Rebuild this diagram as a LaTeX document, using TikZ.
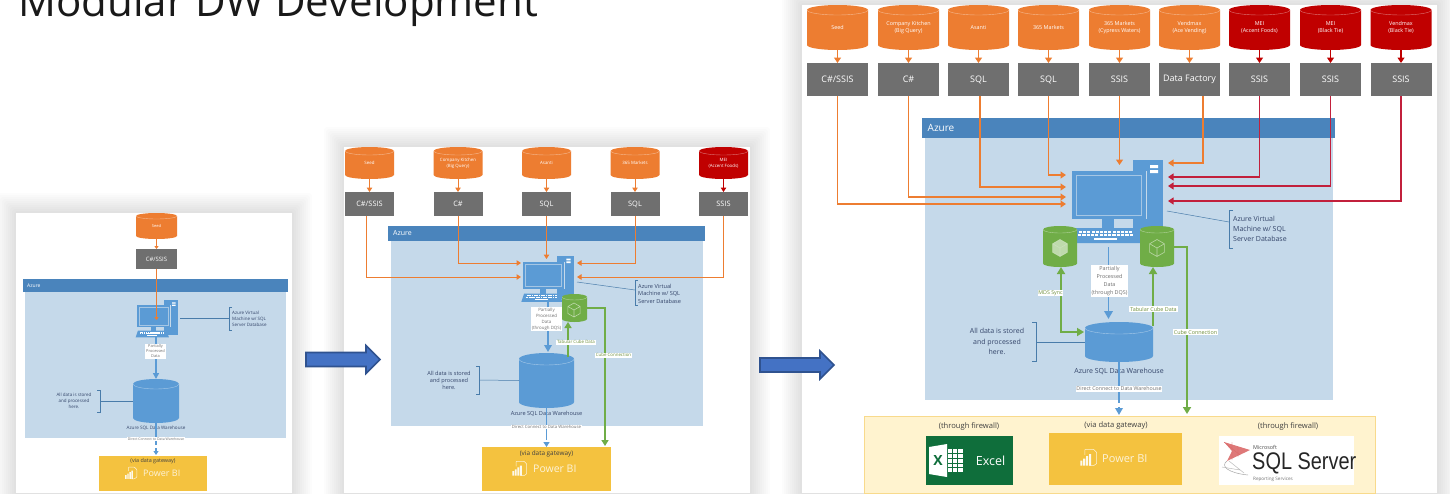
\documentclass[tikz,border=0pt]{standalone}
\usepackage{fontspec}
\usepackage{graphicx}
\setmainfont{Open Sans}
\newfontfamily\sqlfont{Liberation Sans}
\usetikzlibrary{arrows.meta}
\definecolor{srcorange}{HTML}{ED7D31}
\definecolor{srcred}{HTML}{C00000}
\definecolor{linered}{HTML}{C2203C}
\definecolor{etlgray}{HTML}{6F6F6F}
\definecolor{msblue}{HTML}{5B9BD5}
\definecolor{hdrblue}{HTML}{4A84BC}
\definecolor{azbody}{HTML}{C5D9EA}
\definecolor{cubegreen}{HTML}{70AD47}
\definecolor{bigarrow}{HTML}{4472C4}
\definecolor{bigarrowedge}{HTML}{2F528F}
\definecolor{pbiyellow}{HTML}{F4C23F}
\definecolor{palepanel}{HTML}{FFF3CF}
\definecolor{inktext}{HTML}{34456A}
\definecolor{olive}{HTML}{6F8F3C}
\definecolor{excelgreen}{HTML}{0F6E3B}
\newcommand{\fs}[1]{\fontsize{#1}{\the\dimexpr #1pt*132/100\relax}\selectfont}
\newcommand{\fsl}[2]{\fontsize{#1}{#2}\selectfont}
\tikzset{
  x=1pt,y=-1pt,
  boxnode/.style={inner sep=0pt,outer sep=0pt,anchor=center},
  etlbox/.style={boxnode,fill=etlgray,text=white},
  orangeflow/.style={draw=srcorange,line width=1.2pt,-{Triangle[width=7pt,length=5.5pt]}},
  redflow/.style={draw=linered,line width=1.2pt,-{Triangle[width=7pt,length=5.5pt]}},
  dredflow/.style={draw=srcred,line width=1.2pt,-{Triangle[width=7pt,length=5.5pt]}},
  smalltip/.style={line width=1pt,-{Triangle[width=5.5pt,length=4.5pt]}},
  blueflow/.style={draw=msblue,line width=1.8pt,-{Triangle[width=8.5pt,length=8pt]}},
  greenflow/.style={draw=cubegreen,line width=2pt,-{Triangle[width=8pt,length=7pt]}},
  greenboth/.style={draw=cubegreen,line width=2pt,{Triangle[width=8pt,length=7pt]}-{Triangle[width=8pt,length=7pt]}},
  callout/.style={draw=msblue!80!black,line width=.5pt},
  notetext/.style={inner sep=0pt,text=inktext,align=left},
  flowlabel/.style={fill=white,inner sep=.8pt,text=etlgray,align=center},
  greenlabel/.style={fill=white,inner sep=.8pt,text=olive,align=center},
  blockarrow/.style={fill=bigarrow,draw=bigarrowedge,line width=1.6pt},
}
% panel shadow: x1 y1 x2 y2
\newcommand{\panelshadow}[4]{%
  \foreach \g in {1,...,10}{\fill[black,opacity=.013,rounded corners=3pt] (#1-\g*2,#2-\g*2) rectangle (#3+\g*2,#4+\g*2);}}
% cylinder: name cx top bottom width colour ry font text
\newcommand{\cyl}[9]{%
  \fill[#6] (#2-#5/2,#3+#7) -- (#2-#5/2,#4-#7) arc[start angle=180,end angle=360,x radius=#5*0.5pt,y radius=#7pt] -- (#2+#5/2,#3+#7) arc[start angle=0,end angle=180,x radius=#5*0.5pt,y radius=#7pt] -- cycle;
  \draw[white,opacity=.45,line width=.4pt] (#2-#5/2,#3+#7) arc[start angle=180,end angle=360,x radius=#5*0.5pt,y radius=#7pt];
  \node[boxnode,minimum width=#5pt,minimum height={#4-#3},text=white,align=center,font=\fs{#8}] (#1) at (#2,{(#3+#4)/2}) {#9};}
% computer: name x y scale
\newcommand{\computer}[4]{%
  \begin{scope}[shift={(#2,#3)},scale=#4]
    \fill[msblue] (61,-11) rectangle (91,66);
    \fill[white] (78,-6) rectangle (86,-3) (78,-1) rectangle (86,2);
    \fill[msblue] (0,0) rectangle (74,48);
    \draw[azbody,line width=.4pt] (74,0) -- (74,48);
    \draw[azbody!70!msblue,line width=.5pt] (4,4) rectangle (69,44);
    \fill[msblue] (30,48) rectangle (42,57);
    \fill[msblue] (2,57) -- (66,57) -- (71,72) -- (-3,72) -- cycle;
    \foreach \i in {0,...,12}{
      \fill[white] ({7+\i*4.2},60) rectangle ({10+\i*4.2},62);
      \fill[white] ({6+\i*4.3},63.2) rectangle ({9.2+\i*4.3},65.2);
    }
    \fill[white] (22,67) rectangle (45,69);
  \end{scope}
  \node[boxnode,minimum width={83*#4},minimum height={83*#4}] (#1) at ({#2+#4*44},{#3+#4*30}) {};}
% cube icon: cx cy r style
\newcommand{\cubeicon}[4]{%
  \begin{scope}[shift={(#1,#2)},scale=#3,line width=.6pt]
    \path[#4] (0,-1) -- (.87,-.5) -- (.87,.5) -- (0,1) -- (-.87,.5) -- (-.87,-.5) -- cycle;
    \draw[cubegreen!35!white,opacity=.8] (0,-1) -- (.87,-.5) -- (.87,.5) -- (0,1) -- (-.87,.5) -- (-.87,-.5) -- cycle (-.87,-.5) -- (0,0) -- (.87,-.5) (0,0) -- (0,1);
  \end{scope}}
% power bi icon: x y size
\newcommand{\pbiicon}[3]{%
  \begin{scope}[shift={(#1,#2)},scale=#3]
    \draw[white,opacity=.8,line width=.5pt,rounded corners=.5pt] (.28,.35) -- (.28,.02) -- (.8,.02) -- (.98,.2) -- (.98,.85) -- (.8,.98) -- (.55,.98);
    \fill[white,opacity=.9] (.02,.68) rectangle (.14,.98) (.19,.56) rectangle (.31,.98) (.36,.42) rectangle (.48,.98) (.53,.3) rectangle (.65,.98);
  \end{scope}}
\begin{document}
\begin{tikzpicture}
\useasboundingbox (0,0) rectangle (1450,493);
\fill[white] (0,0) rectangle (1450,493);
\node[anchor=base west,inner sep=0pt,text=black!90,font=\fontsize{42}{42}\selectfont] (title) at (18,16) {Modular DW Development};

\panelshadow{802}{5}{1437}{493}
\panelshadow{344}{147}{750}{493}
\panelshadow{16}{213}{292}{493}

%% ---------- panel 1
\fill[white] (16,213) rectangle (292,493);
\fill[azbody] (25,290) rectangle (286,438);
\node[boxnode,fill=hdrblue,minimum width=265,minimum height=13] (az1) at (155.5,285.5) {};
\node[anchor=west,inner sep=0pt,text=white,font=\fs{5}] (az1t) at (27,285.5) {Azure};
\cyl{a1s}{156.5}{213}{239}{41}{srcorange}{3}{4}{Seed}
\node[etlbox,minimum width=41,minimum height=20,font=\fs{6}] (a1c) at (156.5,259) {C\#/SSIS};
\draw[orangeflow,line width=.9pt,-{Triangle[width=4pt,length=3pt]}] (a1s.south) -- (a1c.north);
\computer{vm1}{137}{305}{.45}
\coordinate (a1in) at (156.5,320);
\draw[orangeflow,line width=.9pt,-{Triangle[width=4pt,length=3pt]}] (a1c.south) -- (a1in);
\cyl{dw1}{156}{379}{423}{46}{msblue}{5}{4.5}{}
\coordinate (k1) at (156,336);
\draw[blueflow,line width=1.5pt,-{Triangle[width=6pt,length=6pt]}] (k1) -- (dw1.north);
\node[flowlabel,font=\fsl{3.9}{5}] (p1) at (155.5,351.5) {Partially\\Processed\\Data};
\node[inner sep=.5pt,text=inktext,font=\fs{4.6}] (dw1t) at (156,428.5) {Azure SQL Data Warehouse};
\node[boxnode,fill=pbiyellow,minimum width=108,minimum height=35] (pb1) at (153,473.5) {};
\coordinate (t1) at (156,455);
\draw[blueflow,line width=1.2pt,dash pattern=on 22pt off 3pt on 30pt,-{Triangle[width=5pt,length=4pt]}] (dw1.south) -- (t1);
\node[flowlabel,font=\fs{3.5}] (d1) at (156,439) {Direct Connect to Data Warehouse};
\node[inner sep=0pt,text=black!75,font=\fs{5.4}] (g1) at (153,461) {(via data gateway)};
\pbiicon{125}{467}{12}
\node[anchor=west,inner sep=0pt,text=white,opacity=.8,font=\fs{9}] (pbt1) at (143,473) {Power BI};
\node[notetext,anchor=west,font=\fsl{4.5}{6}] (n1a) at (232,319) {Azure Virtual\\Machine w/ SQL\\Server Database};
\draw[callout] (232,307) -- (229,307) -- (229,330) -- (232,330);
\coordinate (b1a) at (229,318);\coordinate (v1a) at (180,318);
\draw[callout] (v1a) -- (b1a);
\node[notetext,align=center,font=\fsl{4.5}{6}] (n1b) at (74,401) {All data is stored\\and processed\\here.};
\draw[callout] (97,390) -- (100,390) -- (100,412) -- (97,412);
\coordinate (b1b) at (100,401);
\draw[callout] (b1b) -- (dw1.west);

%% ---------- panel 2
\fill[white] (344,147) rectangle (750,493);
\fill[azbody] (391,238) rectangle (703,426);
\node[boxnode,fill=hdrblue,minimum width=317,minimum height=15] (az2) at (546.5,233.5) {};
\node[anchor=west,inner sep=0pt,text=white,font=\fs{7}] (az2t) at (393,233.5) {Azure};
\foreach \n/\cx/\ttl in {s/369.5/Seed,k/458/{Company Kitchen\\(Big Query)},a/546.5/Asanti,m/635/365 Markets}{
  \cyl{b2\n}{\cx}{147}{179}{49}{srcorange}{4}{4.4}{\ttl}
}
\cyl{b2r}{723.5}{147}{179}{49}{srcred}{4}{4.4}{MEI\\(Accent Foods)}
\foreach \n/\cx/\ttl in {s/369.5/C\#\slash SSIS,k/458/C\#,a/546.5/SQL,m/635/SQL,r/723.5/SSIS}{
  \node[etlbox,minimum width=49,minimum height=24,font=\fs{7.4}] (c2\n) at (\cx,204) {\ttl};
}
\foreach \n in {s,k,a,m}{\draw[orangeflow,smalltip] (b2\n.south) -- (c2\n.north);}
\draw[dredflow,smalltip] (b2r.south) -- (c2r.north);
\computer{vm2}{523}{262}{.555}
\coordinate (e2s) at (521,277);\coordinate (e2k) at (521,263);\coordinate (e2a) at (546.5,259);\coordinate (e2m) at (577,263);\coordinate (e2r) at (577,277);
\draw[orangeflow,smalltip] ([xshift=-3.5pt]c2s.south) |- (e2s);
\draw[orangeflow,smalltip] (c2k.south) |- (e2k);
\draw[orangeflow,smalltip] (c2a.south) -- (e2a);
\draw[orangeflow,smalltip] (c2m.south) |- (e2m);
\draw[orangeflow,smalltip] (c2r.south) |- (e2r);
\cyl{g2}{574.5}{294}{322}{25}{cubegreen}{3}{4}{}
\cubeicon{574}{310}{7}{fill=none}
\cyl{dw2}{546.5}{353}{408}{55}{msblue}{6}{5.6}{}
\coordinate (k2) at (548,300);\coordinate (k2e) at (548,352);
\draw[blueflow,line width=1.7pt,-{Triangle[width=7.5pt,length=7pt]}] (k2) -- (k2e);
\node[flowlabel,font=\fsl{4.4}{6}] (p2) at (546.5,319) {Partially\\Processed\\Data\\(through DQS)};
\coordinate (t2) at (568,357);\coordinate (t2e) at (568,322);
\draw[greenflow,line width=1.7pt,-{Triangle[width=7pt,length=6pt]}] (t2) -- (t2e);
\node[greenlabel,font=\fs{4.4}] (gl2a) at (576,342) {Tabular Cube Data};
\node[inner sep=.5pt,text=inktext,font=\fs{5.6}] (dw2t) at (546.5,414) {Azure SQL Data Warehouse};
\node[boxnode,fill=pbiyellow,minimum width=129,minimum height=44] (pb2) at (546.5,469) {};
\coordinate (t2d) at (546.5,447);
\draw[blueflow,line width=1.4pt,dash pattern=on 32pt off 3pt on 4pt off 2pt on 20pt,-{Triangle[width=6pt,length=5pt]}] (dw2.south) -- (t2d);
\node[flowlabel,font=\fs{4.3}] (d2) at (546.5,427) {Direct Connect to Data Warehouse};
\coordinate (cc2) at (587,308);\coordinate (cc2e) at (605,446);
\draw[greenflow,line width=1.7pt,-{Triangle[width=7pt,length=6pt]}] (cc2) -| (cc2e);
\node[greenlabel,font=\fs{4.4}] (gl2b) at (613.5,355) {Cube Connection};
\node[inner sep=0pt,text=black!75,font=\fs{6.4}] (g2t) at (546.5,454) {(via data gateway)};
\pbiicon{512}{461}{15}
\node[anchor=west,inner sep=0pt,text=white,opacity=.8,font=\fs{10.5}] (pbt2) at (533,469) {Power BI};
\node[notetext,anchor=west,font=\fsl{5.6}{7.6}] (n2a) at (638,293.5) {Azure Virtual\\Machine w/ SQL\\Server Database};
\draw[callout] (638,280) -- (635,280) -- (635,305) -- (638,305);
\coordinate (b2a) at (635,290);\coordinate (v2a) at (577,282);
\draw[callout] (v2a) -- (b2a);
\node[notetext,align=center,font=\fsl{5.6}{7.4}] (n2b) at (449,380.5) {All data is stored\\and processed\\here.};
\draw[callout] (476,366) -- (479,366) -- (479,394) -- (476,394);
\coordinate (b2b) at (479,380);
\draw[callout] (b2b) -- (dw2.west);

%% ---------- panel 3
\fill[white] (802,5) rectangle (1437,493);
\fill[azbody] (925,135) rectangle (1333,400);
\node[boxnode,fill=hdrblue,minimum width=413,minimum height=20] (az3) at (1128.5,128) {};
\node[anchor=west,inner sep=0pt,text=white,font=\fs{10}] (az3t) at (927.5,128) {Azure};
\foreach \n/\cx/\ttl in {a/837.5/Seed,b/908.5/{Company Kitchen\\(Big Query)},c/978.5/Asanti,d/1048.5/365 Markets,e/1119.5/{365 Markets\\(Cypress Waters)},f/1189.5/{Vendmax\\(Ace Vending)}}{
  \cyl{s\n}{\cx}{5}{50}{61}{srcorange}{5}{5.4}{\ttl}
}
\foreach \n/\cx/\ttl in {g/1259.5/{MEI\\(Accent Foods)},h/1330.5/{MEI\\(Black Tie)},i/1401/{Vendmax\\(Black Tie)}}{
  \cyl{s\n}{\cx}{5}{50}{61}{srcred}{5}{5.4}{\ttl}
}
\foreach \n/\cx/\ttl in {a/837.5/C\#\slash SSIS,b/908.5/C\#,c/978.5/SQL,d/1048.5/SQL,e/1119.5/SSIS,f/1189.5/Data Factory,g/1259.5/SSIS,h/1330.5/SSIS,i/1401/SSIS}{
  \node[etlbox,minimum width=61,minimum height=33,font=\fs{9}] (e\n) at (\cx,79.5) {\ttl};
}
\foreach \n in {a,b,c,d,e,f}{\draw[orangeflow] (s\n.south) -- (e\n.north);}
\foreach \n in {g,h,i}{\draw[dredflow] (s\n.south) -- (e\n.north);}
\computer{vm3}{1072}{171}{1}
\coordinate (ta) at (1066,204);\coordinate (tb) at (1066,197);\coordinate (tc) at (1066,187);\coordinate (td) at (1066,175);\coordinate (te) at (1119.5,165);\coordinate (tf) at (1168,163);\coordinate (tg) at (1168,177);\coordinate (th) at (1168,186);\coordinate (ti) at (1168,201);
\draw[orangeflow] (ea.south) |- (ta);
\draw[orangeflow] (eb.south) |- (tb);
\draw[orangeflow] ([xshift=1.5pt]ec.south) |- (tc);
\draw[orangeflow] (ed.south) |- (td);
\draw[orangeflow] (ee.south) -- (te);
\draw[orangeflow] ([xshift=13.5pt]ef.south) |- (tf);
\draw[redflow] (eg.south) |- (tg);
\draw[redflow] (eh.south) |- (th);
\draw[redflow] (ei.south) |- (ti);
\cyl{gl}{1060}{226}{267}{34}{cubegreen}{3.5}{4}{}
\cyl{gr}{1157}{226}{267}{34}{cubegreen}{3.5}{4}{}
\cubeicon{1060}{248}{8.5}{fill=white,fill opacity=.55}
\cubeicon{1157}{248}{8.5}{fill=none}
\cyl{dw3}{1119}{322}{362}{68}{msblue}{6}{7}{}
\coordinate (k3) at (1108.5,247);\coordinate (k3e) at (1108.5,319);
\draw[blueflow] (k3) -- (k3e);
\node[flowlabel,font=\fsl{5.4}{8.2}] (p3) at (1109.5,281) {Partially\\Processed\\Data\\(through DQS)};
\coordinate (mds) at (1061,267);\coordinate (dwl) at (1084,332);
\draw[greenboth] (mds) |- (dwl);
\node[greenlabel,font=\fs{5.3}] (gl3a) at (1050.5,293) {MDS Sync};
\coordinate (tab3) at (1153,326);\coordinate (tab3e) at (1153,267);
\draw[greenflow] (tab3) -- (tab3e);
\node[greenlabel,font=\fs{5.4}] (gl3b) at (1153.5,309) {Tabular Cube Data};
\node[inner sep=.5pt,text=inktext,font=\fs{7}] (dw3t) at (1119,371) {Azure SQL Data Warehouse};
\node[boxnode,fill=palepanel,draw=pbiyellow!60!white,line width=.4pt,minimum width=511,minimum height=77] (yp) at (1119.5,454.5) {};
\coordinate (dw3e) at (1119,415);
\draw[blueflow,dash pattern=on 41pt off 4pt on 30pt,-{Triangle[width=7.5pt,length=7pt]}] (dw3.south) -- (dw3e);
\node[flowlabel,font=\fs{5.3}] (d3) at (1119,389) {Direct Connect to Data Warehouse};
\coordinate (cc3) at (1174,247);\coordinate (cc3e) at (1187,414);
\draw[greenflow] (cc3) -| (cc3e);
\node[greenlabel,font=\fs{5.4}] (gl3c) at (1195.5,332) {Cube Connection};
\node[notetext,anchor=west,font=\fsl{7}{10.2}] (n3a) at (1233,229) {Azure Virtual\\Machine w/ SQL\\Server Database};
\draw[callout] (1233,210) -- (1229,210) -- (1229,248) -- (1233,248);
\coordinate (b3a) at (1229,222);\coordinate (v3a) at (1167,211);
\draw[callout] (v3a) -- (b3a);
\node[notetext,align=center,font=\fsl{7}{10.2}] (n3b) at (997,341.5) {All data is stored\\and processed\\here.};
\draw[callout] (1032,322) -- (1036,322) -- (1036,361) -- (1032,361);
\coordinate (b3b) at (1036,342);
\draw[callout] (b3b) -- (dw3.west);
% bottom row
\node[inner sep=0pt,text=black!75,font=\fs{7.6}] (f3a) at (969,426) {(through firewall)};
\node[inner sep=0pt,text=black!75,font=\fs{7.6}] (f3b) at (1116,426) {(via data gateway)};
\node[inner sep=0pt,text=black!75,font=\fs{7.6}] (f3c) at (1288,426) {(through firewall)};
\node[boxnode,fill=excelgreen,minimum width=87,minimum height=49] (xl) at (969.5,460.5) {};
\fill[white] (929,447) -- (947,444) -- (947,477) -- (929,474) -- cycle;
\fill[white] (948,449) rectangle (963,472);
\draw[excelgreen,line width=.5pt] (948,453.5) -- (963,453.5) (948,458) -- (963,458) (948,463) -- (963,463) (948,467.5) -- (963,467.5) (952,449) -- (952,472) (957.5,449) -- (957.5,472);
\node[inner sep=0pt,text=excelgreen,font=\bfseries\fs{14}] (xlx) at (938,460.5) {X};
\node[inner sep=0pt,text=white,font=\fs{12.5}] (xlt) at (990.5,461) {Excel};
\node[boxnode,fill=pbiyellow,minimum width=133,minimum height=52] (pb3) at (1115.5,459) {};
\pbiicon{1080}{449}{17}
\node[anchor=west,inner sep=0pt,text=white,opacity=.8,font=\fs{11}] (pbt3) at (1102,459) {Power BI};
\node[boxnode,fill=white,minimum width=135,minimum height=49] (ssrs) at (1286.5,460.5) {};
\fill[srcred!70!white,opacity=.75] (1224,442) -- (1250,450) -- (1227,461) -- (1232,451) -- cycle;
\draw[srcred!60!white,line width=.3pt] (1224,442) -- (1240,455) (1232,442) -- (1232,460) (1238,447) -- (1238,457);
\draw[black!35,line width=.5pt] (1227,461) .. controls (1220,466) and (1228,473) .. (1248,475);
\draw[black!30,line width=.4pt] (1229,461) -- (1244,473) (1222,467) -- (1240,470);
\node[anchor=west,inner sep=0pt,text=black!70,font=\fs{5.4}] (ms) at (1253,447.5) {Microsoft};
\node[anchor=west,inner sep=0pt,text=black!85,font=\sqlfont\fs{24}] (ss) at (1252,463.5) {\scalebox{.83}[1]{SQL Server}};
\node[anchor=west,inner sep=0pt,text=black!55,font=\fs{4.6}] (rs) at (1253,479) {Reporting Services};

%% ---------- block arrows between the panels
\fill[blockarrow] (306,352.5) -- (366,352.5) -- (366,345.5) -- (380,359.5) -- (366,373.5) -- (366,366.5) -- (306,366.5) -- cycle;
\fill[blockarrow] (760,358) -- (820,358) -- (820,351) -- (834,365) -- (820,379) -- (820,372) -- (760,372) -- cycle;
\end{tikzpicture}
\end{document}
